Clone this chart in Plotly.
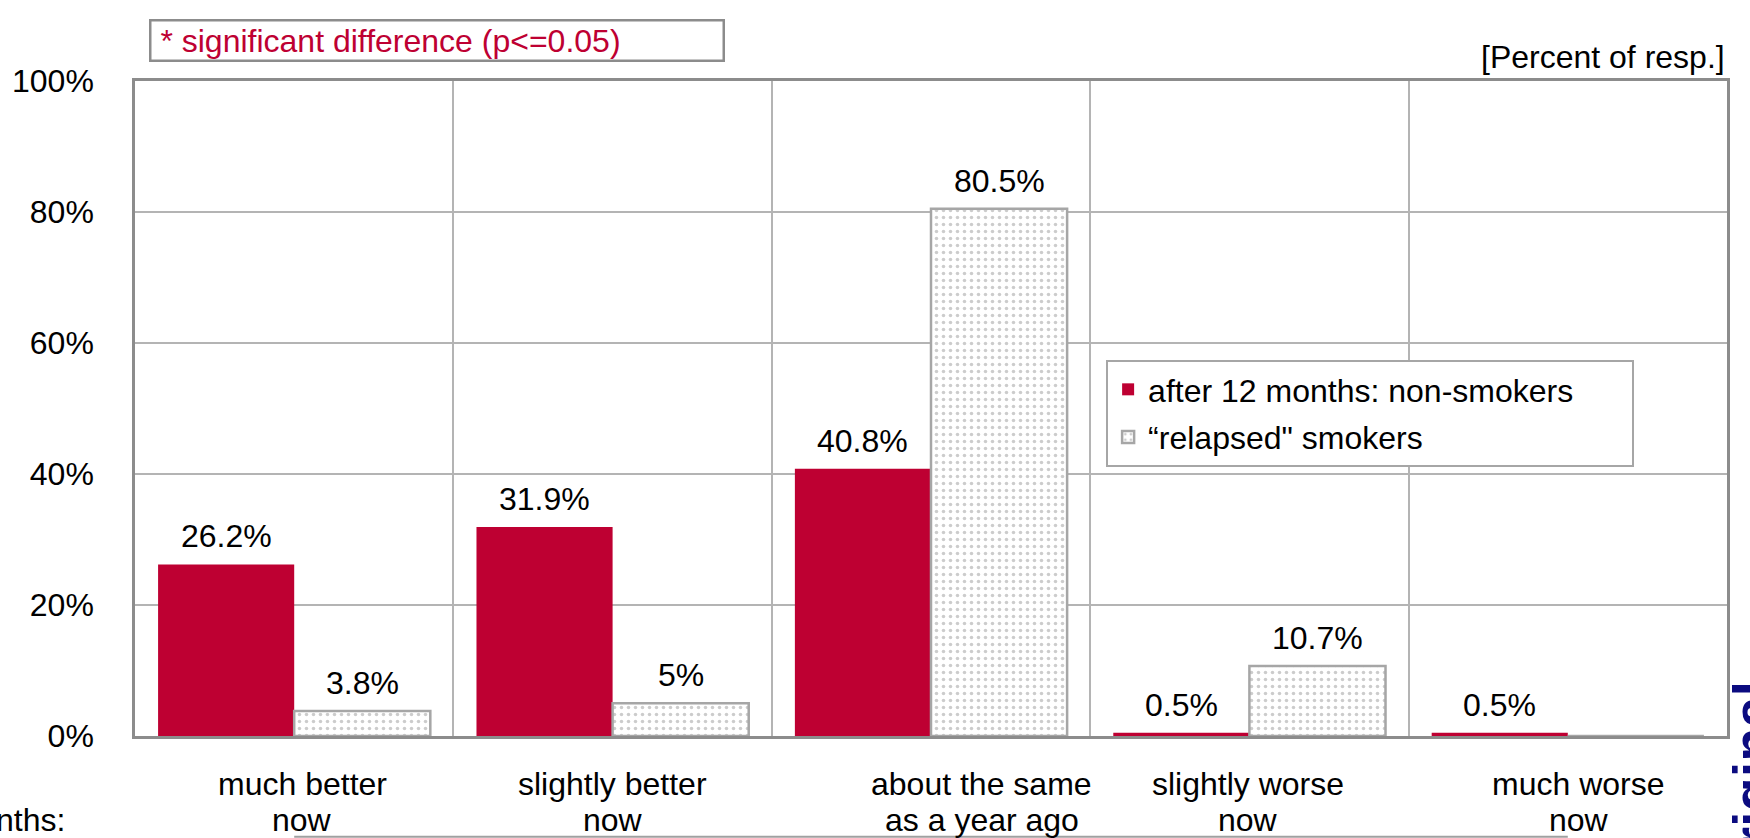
import plotly.graph_objects as go

caption_line1 = ["much better", "slightly better", "about the same", "slightly worse", "much worse"]
caption_line2 = ["now", "now", "as a year ago", "now", "now"]
non_smokers = [26.2, 31.9, 40.8, 0.5, 0.5]
relapsed = [3.8, 5.0, 80.5, 10.7, 0.0]
non_smokers_labels = ["26.2%", "31.9%", "40.8%", "0.5%", "0.5%"]
relapsed_labels = ["3.8%", "5%", "80.5%", "10.7%", ""]
y_tick_values = [0, 20, 40, 60, 80, 100]
y_tick_labels = ["0%", "20%", "40%", "60%", "80%", "100%"]
series_names = ["after 12 months: non-smokers", "\u201crelapsed\" smokers"]

# style: horizontal nudges of the category captions (in category units)
caption_nudge = [0.025, 0.0, 0.16, -0.005, 0.035]

FONT = "Liberation Sans, Arial, sans-serif"
RED = "#BE0032"
GREY = "#A6A6A6"
NAVY = "#0B0B80"
FS = 32
GAP = 0.145
HALF = (1 - GAP) / 4  # offset of each bar centre from the category centre

x_idx = list(range(len(caption_line1)))
PAD = "&nbsp;" * 6  # trailing blank room inside the legend box

fig = go.Figure()
fig.add_trace(go.Bar(
    x=x_idx, y=non_smokers, name=series_names[0] + PAD,
    marker=dict(color=RED, line=dict(width=0)),
    legendgroup="a", cliponaxis=False,
))
fig.add_trace(go.Bar(
    x=x_idx, y=relapsed, name=series_names[1],
    marker=dict(color="white", line=dict(color=GREY, width=2.5),
                pattern=dict(shape=".", fgcolor="#9A9A9A", bgcolor="white", size=7, solidity=0.2)),
    legendgroup="b", cliponaxis=False,
))

annotations = []
# value labels above the bars
for i in x_idx:
    for val, lab, sgn in ((non_smokers[i], non_smokers_labels[i], -1), (relapsed[i], relapsed_labels[i], 1)):
        if lab:
            annotations.append(dict(
                x=i + sgn * HALF, xref="x", y=val, yref="y", xanchor="center", yanchor="bottom",
                yshift=8, text=lab, showarrow=False,
                font=dict(family=FONT, size=FS, color="black"),
            ))
# category captions (two lines each)
for i in x_idx:
    for line, shift in ((caption_line1[i], -28), (caption_line2[i], -64)):
        annotations.append(dict(
            x=i + caption_nudge[i], xref="x", y=0, yref="paper", yanchor="top", xanchor="center",
            yshift=shift, text=line, showarrow=False,
            font=dict(family=FONT, size=FS, color="black"),
        ))
annotations.append(dict(
    x=1, xref="paper", y=1, yref="paper", xanchor="right", yanchor="bottom", yshift=4,
    text="[Percent of resp.]", showarrow=False, font=dict(family=FONT, size=FS, color="black"),
))
annotations.append(dict(
    x=0.00876, xref="paper", y=1, yref="paper", xanchor="left", yanchor="bottom", yshift=19,
    text="&nbsp;* significant difference (p<=0.05)", showarrow=False, align="left", valign="middle",
    width=571, height=38, borderpad=0, bordercolor="#8C8C8C", borderwidth=2.5,
    bgcolor="white", font=dict(family=FONT, size=FS, color=RED),
))
annotations.append(dict(
    x=0, xref="paper", xshift=-68, y=0, yref="paper", yshift=-84, xanchor="right", yanchor="middle",
    text="nths:", showarrow=False, font=dict(family=FONT, size=FS, color="black"),
))
# vertical slide label at the right edge (mostly outside the page)
annotations.append(dict(
    x=1.0166, xref="paper", y=-0.0763, yref="paper", xanchor="center", yanchor="middle",
    text="<b>Original</b>", textangle=-90, showarrow=False,
    font=dict(family=FONT, size=56, color=NAVY),
))

fig.update_layout(
    width=1750, height=838,
    margin=dict(l=128, r=23, t=81, b=102),
    paper_bgcolor="white", plot_bgcolor="white",
    barmode="group", bargap=GAP, bargroupgap=0,
    font=dict(family=FONT, size=FS, color="black"),
    showlegend=True,
    legend=dict(x=0.610, y=0.574, xanchor="left", yanchor="top",
                bgcolor="white", bordercolor="#A6A6A6", borderwidth=2,
                font=dict(family=FONT, size=FS, color="black"),
                traceorder="grouped", tracegroupgap=3, itemwidth=30),
    annotations=annotations,
    shapes=[dict(type="line", xref="paper", yref="paper", x0=0.1, x1=0.9, y0=-0.154, y1=-0.154,
                 line=dict(color="#A0A0A0", width=2))],
)
fig.update_xaxes(
    range=[-0.5, len(x_idx) - 0.5], tickvals=[0.5, 1.5, 2.5, 3.5], showticklabels=False,
    showgrid=True, gridcolor="#B4B4B4", gridwidth=1.5, zeroline=False,
    showline=True, mirror=True, linecolor="#8C8C8C", linewidth=2.5, ticks="",
)
fig.update_yaxes(
    range=[0, 100], tickvals=y_tick_values, ticktext=y_tick_labels,
    showgrid=True, gridcolor="#B4B4B4", gridwidth=1.5, zeroline=False,
    showline=True, mirror=True, linecolor="#8C8C8C", linewidth=2.5, ticks="",
    ticklabelstandoff=32, tickfont=dict(family=FONT, size=FS, color="black"),
)

fig.write_html("out.html")
